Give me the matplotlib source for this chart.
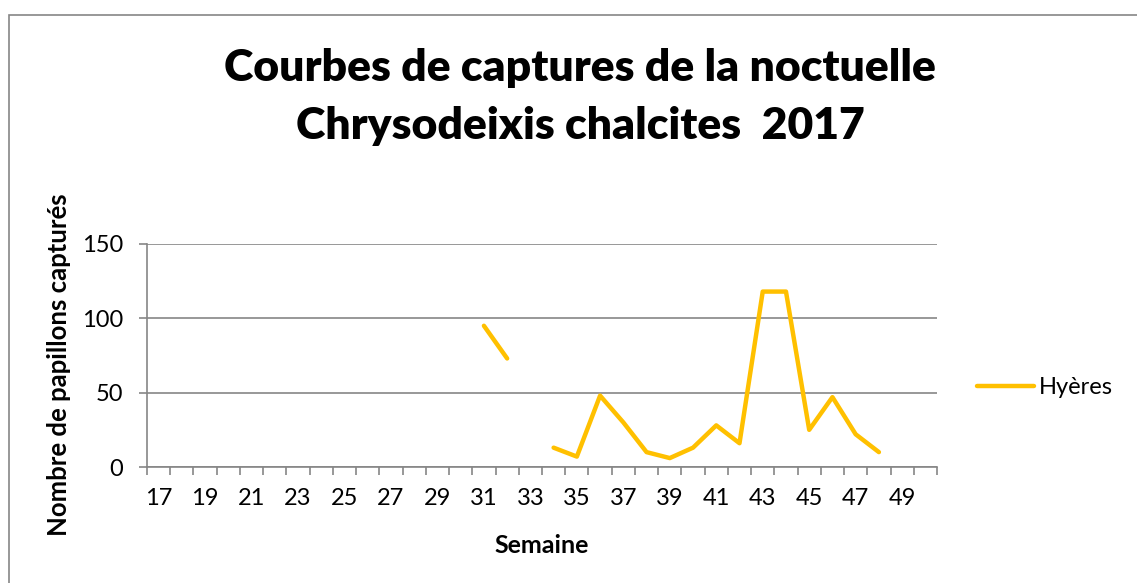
import numpy as np
import matplotlib
matplotlib.use("Agg")
import matplotlib.pyplot as plt
from matplotlib.patches import Rectangle

# weekly captures, Hyères 2017 (NaN = no reading)
weeks = list(range(17, 51))
captures = [np.nan] * 14 + [95, 73, np.nan, 13, 7, 48, 30, 10, 6, 13, 28, 16,
                            118, 118, 25, 47, 22, 10, np.nan, np.nan]
label_weeks = list(range(17, 50, 2))
yticks = [0, 50, 100, 150]

title = "Courbes de captures de la noctuelle\nChrysodeixis chalcites  2017"
series_name = "Hyères"

plt.rcParams['font.family'] = ['Lato', 'DejaVu Sans']
grey = "#868686"
gold = "#FFC000"

fig = plt.figure(figsize=(11.37, 5.83), dpi=100)
fig.patches.append(Rectangle((9 / 1137, -0.1), 1.2, 1 - 15 / 583 + 0.1,
                             transform=fig.transFigure, fill=False,
                             edgecolor=grey, linewidth=1.2))

ax = fig.add_axes([147 / 1137, 116 / 583, 790 / 1137, 223 / 583])
ax.plot(weeks, captures, color=gold, linewidth=3.2, solid_capstyle="round",
        label=series_name)

ax.set_xlim(16.5, 50.5)
ax.set_ylim(0, 150)
ax.set_yticks(yticks)
ax.set_xticks(label_weeks)
ax.set_xticks(np.arange(16.5, 51, 1), minor=True)
ax.tick_params(axis="x", which="major", length=0, pad=15, labelsize=17)
ax.tick_params(axis="x", which="minor", length=6, width=1.2, color=grey)
ax.tick_params(axis="y", length=6, width=1.2, color=grey, pad=11, labelsize=17)

ax.grid(axis="y", color=grey, linewidth=1.2)
ax.set_axisbelow(True)
for side in ["top", "right"]:
    ax.spines[side].set_visible(False)
for side in ["left", "bottom"]:
    ax.spines[side].set_color(grey)
    ax.spines[side].set_linewidth(1.2)

ax.set_xlabel("Semaine", fontsize=18, fontweight="bold", labelpad=18)
ax.set_ylabel("Nombre de papillons capturés", fontsize=18.5, fontweight="bold")
ax.yaxis.set_label_coords(-0.096, 0.46)

fig.text(580 / 1137, 1 - 97 / 583, title, ha="center", va="center",
         fontsize=32, fontweight="heavy", linespacing=1.52)

ax.legend(loc="center left", bbox_to_anchor=(1.024, 0.355), frameon=False,
          fontsize=17, handlelength=2.4, handletextpad=0.2)

fig.savefig("out.png", dpi=100)
